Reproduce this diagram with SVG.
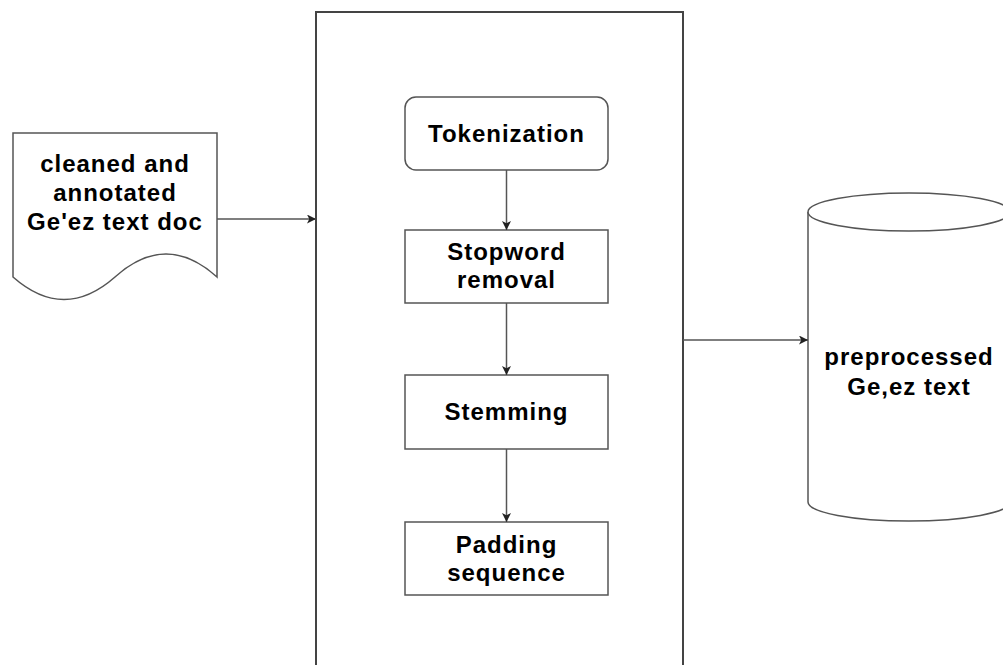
<svg xmlns="http://www.w3.org/2000/svg" width="1003" height="665" viewBox="0 0 1003 665">
  <defs>
    <marker id="arrow" viewBox="0 0 10 10" refX="10" refY="5" markerWidth="9" markerHeight="9" markerUnits="userSpaceOnUse" orient="auto">
      <path d="M0,0 L10,5 L0,10 L2.5,5 Z" fill="#222"/>
    </marker>
  </defs>
  <style>
    .shape { fill: #fff; stroke: #555; stroke-width: 1.5; }
    .frame { fill: #fff; stroke: #444; stroke-width: 2; }
    .link { fill: none; stroke: #555; stroke-width: 1.5; marker-end: url(#arrow); }
    .label { font-family: "Liberation Sans", Arial, sans-serif; font-weight: bold; font-size: 24px; letter-spacing: 1px; fill: #000; text-anchor: middle; }
  </style>
  <rect width="1003" height="665" fill="#fff"/>

  <!-- processing stage container -->
  <g id="pipeline">
    <rect class="frame" x="316" y="12" width="367" height="670"/>
  </g>

  <!-- source document -->
  <g id="source-doc">
    <path class="shape" d="M13,133 L217,133 L217,277 Q166,231 115,277 Q64,322 13,277 Z"/>
    <text class="label" x="115" y="172">cleaned and</text>
    <text class="label" x="115" y="201">annotated</text>
    <text class="label" x="115" y="230">Ge'ez text doc</text>
  </g>

  <g id="tokenization">
    <rect class="shape" x="405" y="97" width="203" height="73" rx="11" ry="11"/>
    <text class="label" x="506.5" y="142">Tokenization</text>
  </g>

  <g id="stopword-removal">
    <rect class="shape" x="405" y="230" width="203" height="73"/>
    <text class="label" x="506.5" y="260">Stopword</text>
    <text class="label" x="506.5" y="288">removal</text>
  </g>

  <g id="stemming">
    <rect class="shape" x="405" y="375" width="203" height="74"/>
    <text class="label" x="506.5" y="420">Stemming</text>
  </g>

  <g id="padding-sequence">
    <rect class="shape" x="405" y="522" width="203" height="73"/>
    <text class="label" x="506.5" y="553">Padding</text>
    <text class="label" x="506.5" y="581">sequence</text>
  </g>

  <!-- output store -->
  <g id="preprocessed-store">
    <path class="shape" d="M808,212 A101,19 0 0 1 1010,212 L1010,502 A101,19 0 0 1 808,502 Z"/>
    <path class="shape" fill="none" d="M808,212 A101,19 0 0 0 1010,212"/>
    <text class="label" x="909" y="365">preprocessed</text>
    <text class="label" x="909" y="395">Ge,ez text</text>
  </g>

  <g id="connectors">
    <line class="link" x1="217" y1="219" x2="316" y2="219"/>
    <line class="link" x1="506.5" y1="170" x2="506.5" y2="230"/>
    <line class="link" x1="506.5" y1="303" x2="506.5" y2="375"/>
    <line class="link" x1="506.5" y1="449" x2="506.5" y2="522"/>
    <line class="link" x1="683" y1="340" x2="808" y2="340"/>
  </g>
</svg>
